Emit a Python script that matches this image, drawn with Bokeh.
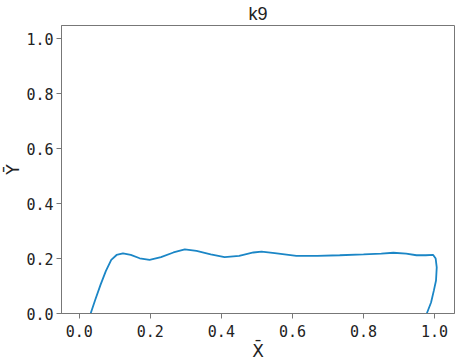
from bokeh.plotting import figure
from bokeh.models import Range1d, FixedTicker, NumeralTickFormatter
from bokeh.embed import file_html
from bokeh.resources import INLINE

title = "k9"
x_label = "X\u0304"
y_label = "Y\u0304"
x_ticks = [0.0, 0.2, 0.4, 0.6, 0.8, 1.0]
y_ticks = [0.0, 0.2, 0.4, 0.6, 0.8, 1.0]

curve_x = [0.032, 0.045, 0.06, 0.075, 0.09, 0.105, 0.123, 0.145, 0.17, 0.198,
           0.23, 0.265, 0.297, 0.33, 0.37, 0.409, 0.45, 0.49, 0.513, 0.55,
           0.611, 0.67, 0.733, 0.8, 0.85, 0.884, 0.92, 0.949, 0.975, 0.996,
           1.003, 1.006, 1.004, 0.998, 0.99, 0.978]
curve_y = [0.0, 0.05, 0.105, 0.155, 0.195, 0.213, 0.219, 0.213, 0.201, 0.195,
           0.205, 0.222, 0.233, 0.228, 0.215, 0.205, 0.21, 0.222, 0.225, 0.22,
           0.21, 0.21, 0.212, 0.215, 0.218, 0.221, 0.218, 0.212, 0.212, 0.213,
           0.2, 0.168, 0.12, 0.084, 0.04, 0.0]

p = figure(frame_width=393, frame_height=288, output_backend="svg", toolbar_location=None,
           x_range=Range1d(-0.05, 1.056), y_range=Range1d(0, 1.048),
           title=title, min_border_left=0, min_border_right=1,
           min_border_top=0, min_border_bottom=0)

p.line(curve_x, curve_y, line_color="#1b86c6", line_width=1.8)

p.title.align = "center"
p.title.text_font = "Liberation Sans"
p.title.text_font_size = "18px"
p.title.text_font_style = "normal"
p.title.text_color = "#222222"
p.title.text_line_height = 0.9
p.title.standoff = 3
p.title.offset = 0

for ax, ticks, lab in ((p.xaxis, x_ticks, x_label), (p.yaxis, y_ticks, y_label)):
    ax.ticker = FixedTicker(ticks=ticks)
    ax.formatter = NumeralTickFormatter(format="0.0")
    ax.axis_label = lab
    ax.axis_label_text_font = "DejaVu Sans"
    ax.axis_label_text_font_size = "17px"
    ax.axis_label_text_font_style = "normal"
    ax.axis_label_text_color = "#222222"
    ax.major_label_text_font = "DejaVu Sans Mono"
    ax.major_label_text_font_size = "15px"
    ax.major_label_text_color = "#222222"
    ax.axis_line_color = "#777777"
    ax.major_tick_line_color = "#777777"
    ax.major_tick_out = 5
    ax.major_tick_in = 0
    ax.minor_tick_line_color = None

p.xaxis.major_label_standoff = 6
p.xaxis.axis_label_standoff = 1
p.yaxis.major_label_standoff = 3
p.yaxis.axis_label_standoff = 0

p.outline_line_color = "#777777"
p.outline_line_alpha = 1.0
p.xgrid.grid_line_color = None
p.ygrid.grid_line_color = None

open("out.html", "w").write(file_html(p, INLINE))
